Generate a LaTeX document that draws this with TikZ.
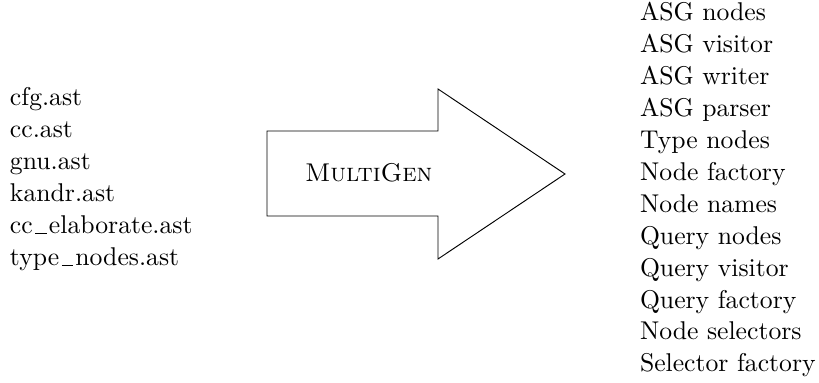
\documentclass[tikz,border=0pt]{standalone}
% classic low-rule underscore
\newcommand\lowbar{\leavevmode\kern.1em\vbox{\hrule width.45em}\kern.08em}
\begin{document}
\begin{tikzpicture}[x=0.4264pt, y=-0.4264pt,
  every node/.style={inner sep=0pt, outer sep=0pt, font=\fontsize{10.95}{13.6}\selectfont},
  item/.style={anchor=base west},
  bigarrow/.style={draw=black, line width=0.4pt, line join=miter}]
  \useasboundingbox (0,0) rectangle (819,383);
  % input grammar files
  \foreach \f [count=\i from 0] in {cfg.ast, cc.ast, gnu.ast, kandr.ast, cc\lowbar elaborate.ast, type\lowbar nodes.ast}
    \node[item] (in\i) at (10,106+31.9*\i) {\f};
  % generator arrow
  \draw[bigarrow] (267,131) -- (438,131) -- (438,89) -- (565,174) -- (438,259) -- (438,216) -- (267,216) -- cycle;
  \node[item] (gen) at (305,182) {\textsc{MultiGen}};
  % generated components
  \foreach \f [count=\i from 0] in {ASG nodes, ASG visitor, ASG writer, ASG parser, Type nodes, Node factory, Node names, Query nodes, Query visitor, Query factory, Node selectors, Selector factory}
    \node[item] (out\i) at (640,21+31.9*\i) {\f};
\end{tikzpicture}
\end{document}
